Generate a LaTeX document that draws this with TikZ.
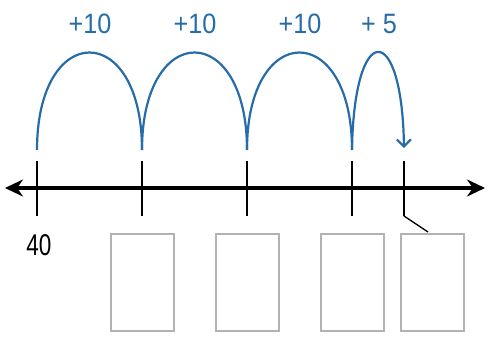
\documentclass[tikz,border=0pt]{standalone}
\usepackage{fontspec}
\setmainfont{Liberation Sans}
\usetikzlibrary{arrows.meta,positioning,calc}
\definecolor{jumpblue}{RGB}{38,108,168}
\definecolor{boxgray}{RGB}{178,178,178}
\tikzset{
  jump/.style={draw=jumpblue,line width=2.2pt},
  jumplabel/.style={text=jumpblue,font=\fontsize{28}{28}\selectfont,inner sep=0pt,xscale=0.9},
  tickmark/.style={line width=1.3pt},
  answerbox/.style={draw=boxgray,line width=2pt,minimum width=63pt,minimum height=97pt,inner sep=0pt}
}
\begin{document}
\begin{tikzpicture}[x=1pt,y=-1pt,line cap=butt]
  \useasboundingbox (0,0) rectangle (488,337);

  % tick positions
  \coordinate (t0) at (37,188);
  \coordinate (t1) at (142,188);
  \coordinate (t2) at (247,188);
  \coordinate (t3) at (352,188);
  \coordinate (t4) at (404,188);

  % number line
  \coordinate (lend) at (5,188);
  \coordinate (rend) at (485,188);
  \draw[line width=3.8pt,{Stealth[length=18pt,width=17pt]}-{Stealth[length=18pt,width=17pt]}] (lend) -- (rend);

  % ticks
  \foreach \i in {0,...,4}
    \draw[tickmark] ($(t\i)+(0,-27)$) -- ($(t\i)+(0,28)$);

  % jumps
  \draw[jump] ($(t0)+(0,-38)$) .. controls ($(t0)+(0,-168)$) and ($(t1)+(0,-168)$) .. ($(t1)+(0,-38)$);
  \draw[jump] ($(t1)+(0,-38)$) .. controls ($(t1)+(0,-168)$) and ($(t2)+(0,-168)$) .. ($(t2)+(0,-38)$);
  \draw[jump] ($(t2)+(0,-38)$) .. controls ($(t2)+(0,-168)$) and ($(t3)+(0,-168)$) .. ($(t3)+(0,-38)$);
  \draw[jump,-{Straight Barb[length=7pt,width=14pt]}] ($(t3)+(0,-38)$) .. controls ($(t3)+(2,-168)$) and ($(t4)+(-2,-168)$) .. ($(t4)+(0,-40)$);

  % labels
  \node[jumplabel] (p1) at (90,24) {+10};
  \node[jumplabel] (p2) at (195,24) {+10};
  \node[jumplabel] (p3) at (300,24) {+10};
  \node[jumplabel] (p4) at (379,24) {+ 5};
  \node[font=\fontsize{30}{30}\selectfont,inner sep=0pt,xscale=0.75] (start) at (39,245) {40};

  % boxes
  \node[answerbox] (b1) at (142.5,282) {};
  \node[answerbox] (b2) at (247,282) {};
  \node[answerbox] (b3) at (352,282) {};
  \node[answerbox] (b4) at (432,282) {};

  % leader to last box
  \coordinate (lead) at (428,232);
  \draw[tickmark] ($(t4)+(0,28)$) -- (lead);
\end{tikzpicture}
\end{document}
